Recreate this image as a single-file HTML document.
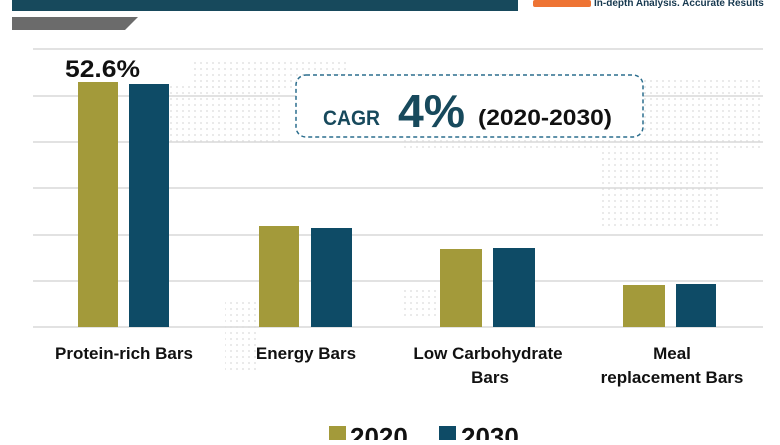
<!DOCTYPE html>
<html><head><meta charset="utf-8"><style>
body{margin:0;width:780px;height:440px;overflow:hidden;background:#fff;font-family:"Liberation Sans",sans-serif}
</style></head><body>
<svg width="780" height="440" xmlns="http://www.w3.org/2000/svg" font-family="Liberation Sans, sans-serif">
<defs>
<pattern id="dots" width="6" height="6" patternUnits="userSpaceOnUse"><circle cx="3" cy="3" r="1" fill="#d8d8d8"/></pattern>
</defs>
<rect x="12" y="0" width="506" height="11" fill="#17495c"/>
<polygon points="12,17 138,17 125,30 12,30" fill="#6b6b6b"/>
<rect x="533" y="0" width="58" height="7" rx="2" fill="#ee7434"/>
<text x="594" y="6" font-size="10" font-weight="bold" fill="#16384f">In-depth Analysis. Accurate Results</text>
<g opacity="0.7">
<rect x="140" y="85" width="140" height="60" fill="url(#dots)"/>
<rect x="190" y="60" width="160" height="30" fill="url(#dots)"/>
<rect x="225" y="300" width="35" height="70" fill="url(#dots)"/>
<rect x="400" y="70" width="160" height="80" fill="url(#dots)"/>
<rect x="560" y="80" width="200" height="70" fill="url(#dots)"/>
<rect x="600" y="150" width="120" height="80" fill="url(#dots)"/>
<rect x="400" y="290" width="80" height="30" fill="url(#dots)"/>
</g>
<g stroke="#d9d9d9" stroke-width="1.5">
<line x1="33" y1="49" x2="763" y2="49"/>
<line x1="33" y1="96" x2="763" y2="96"/>
<line x1="33" y1="142" x2="763" y2="142"/>
<line x1="33" y1="188" x2="763" y2="188"/>
<line x1="33" y1="235" x2="763" y2="235"/>
<line x1="33" y1="281" x2="763" y2="281"/>
<line x1="33" y1="327" x2="763" y2="327"/>
</g>
<g fill="#a39a3a">
<rect x="78" y="82" width="40" height="245"/>
<rect x="259" y="226" width="40" height="101"/>
<rect x="440" y="249" width="42" height="78"/>
<rect x="623" y="285" width="42" height="42"/>
</g>
<g fill="#0e4b66">
<rect x="129" y="84" width="40" height="243"/>
<rect x="311" y="228" width="41" height="99"/>
<rect x="493" y="248" width="42" height="79"/>
<rect x="676" y="284" width="40" height="43"/>
</g>
<text x="65" y="77" font-size="24" font-weight="bold" fill="#111" textLength="75" lengthAdjust="spacingAndGlyphs">52.6%</text>
<rect x="296" y="75" width="347" height="62" rx="10" fill="#fff" stroke="#2c6e8e" stroke-width="1.5" stroke-dasharray="4,3"/>
<text x="323" y="125" font-size="21" font-weight="bold" fill="#17495c" textLength="57" lengthAdjust="spacingAndGlyphs">CAGR</text>
<text x="398" y="127" font-size="46" font-weight="bold" fill="#17495c" textLength="67" lengthAdjust="spacingAndGlyphs">4%</text>
<text x="478" y="125" font-size="22" font-weight="bold" fill="#111" textLength="134" lengthAdjust="spacingAndGlyphs">(2020-2030)</text>
<g font-size="17" font-weight="bold" fill="#111" text-anchor="middle">
<text x="124" y="359">Protein-rich Bars</text>
<text x="306" y="359">Energy Bars</text>
<text x="488" y="359">Low Carbohydrate</text>
<text x="490" y="383">Bars</text>
<text x="672" y="359">Meal</text>
<text x="672" y="383">replacement Bars</text>
</g>
<rect x="329" y="426" width="17" height="14" fill="#a39a3a"/>
<text x="350" y="446" font-size="26" font-weight="bold" fill="#111">2020</text>
<rect x="439" y="426" width="17" height="14" fill="#0e4b66"/>
<text x="461" y="446" font-size="26" font-weight="bold" fill="#111">2030</text>
</svg>
</body></html>
